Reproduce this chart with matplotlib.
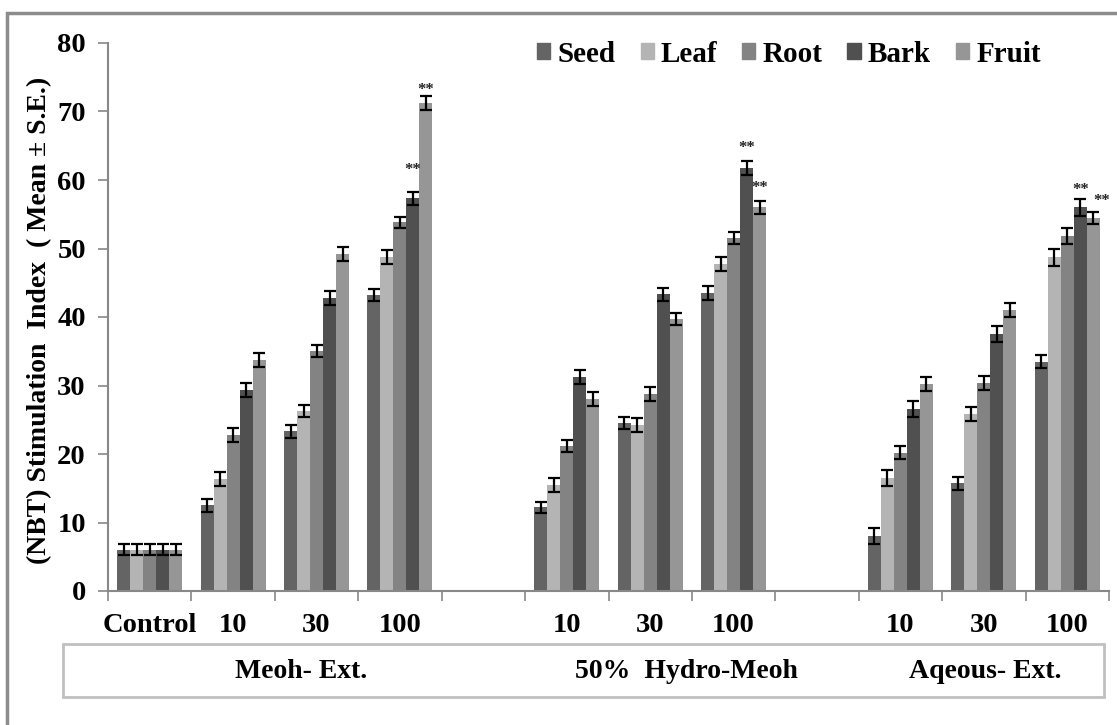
import numpy as np
import matplotlib.pyplot as plt
from matplotlib.patches import Rectangle, Patch

plt.rcParams['font.family'] = ['Liberation Serif', 'DejaVu Serif']
plt.rcParams['font.weight'] = 'bold'

nan = np.nan

# categories along the x axis (blank slots separate the extract groups)
slots = ['Control', '10', '30', '100', '', '10', '30', '100', '', '10', '30', '100']
parts = ['Seed', 'Leaf', 'Root', 'Bark', 'Fruit']
groups = ['Meoh- Ext.', '50%  Hydro-Meoh', 'Aqeous- Ext.']

seed = [6, 12.5, 23.3, 43.2, nan, 12.2, 24.5, 43.5, nan, 8.0, 15.7, 33.5]
leaf = [6, 16.3, 26.3, 48.8, nan, 15.5, 24.2, 47.7, nan, 16.5, 25.8, 48.7]
root = [6, 22.8, 35.0, 53.8, nan, 21.2, 28.8, 51.5, nan, 20.2, 30.4, 51.8]
bark = [6, 29.3, 42.8, 57.3, nan, 31.2, 43.3, 61.8, nan, 26.6, 37.5, 56.0]
fruit = [6, 33.7, 49.2, 71.2, nan, 28.0, 39.7, 56.0, nan, 30.2, 41.0, 54.5]

seed_se = [0.8, 0.9, 1.0, 0.9, nan, 0.8, 0.9, 1.0, nan, 1.2, 1.0, 1.0]
leaf_se = [0.8, 1.0, 0.9, 1.0, nan, 1.0, 1.0, 1.0, nan, 1.2, 1.0, 1.2]
root_se = [0.8, 1.0, 0.9, 0.8, nan, 0.9, 1.0, 0.9, nan, 1.0, 1.0, 1.2]
bark_se = [0.8, 1.0, 1.0, 0.9, nan, 1.0, 1.0, 1.0, nan, 1.2, 1.2, 1.2]
fruit_se = [0.8, 1.0, 1.0, 1.0, nan, 1.0, 0.9, 1.0, nan, 1.0, 1.0, 0.9]

# "**" marks: (slot, part, height)
stars = [(3, 3, 61.5), (3, 4, 73.2), (7, 3, 64.6), (7, 4, 58.8), (11, 3, 58.5), (11, 4, 57.0)]

values = [seed, leaf, root, bark, fruit]
errors = [seed_se, leaf_se, root_se, bark_se, fruit_se]
colors = ['#646464', '#b4b4b4', '#838383', '#505050', '#969696']

W, H = 1117, 725
fig = plt.figure(figsize=(W / 100, H / 100), dpi=100)
ax = fig.add_axes([108 / W, (H - 591) / H, (1109 - 108) / W, (591 - 43) / H])

x = np.arange(len(slots))
bw = 0.156
for i in range(5):
    pos = x + (i - 2) * bw
    ax.bar(pos, values[i], bw, color=colors[i], label=parts[i])
    ax.errorbar(pos, values[i], yerr=errors[i], fmt='none', ecolor='black',
                elinewidth=1.6, capsize=4.5, capthick=1.6)

for s, p, h in stars:
    dx = 0.1 if (s == 11 and p == 4) else 0
    ax.text(x[s] + (p - 2) * bw + dx, h, '**', ha='center', va='center',
            fontsize=12, color='#222222')

ax.set_xlim(-0.5, len(slots) - 0.5)
ax.set_ylim(0, 80)
ax.set_yticks(range(0, 81, 10))
ax.set_xticks(x)
ax.set_xticklabels(slots)
ax.set_xticks(np.arange(-0.5, len(slots), 1), minor=True)
ax.tick_params(axis='x', which='major', length=0, pad=16, labelsize=20.5)
ax.tick_params(axis='x', which='minor', length=7, width=1.2, color='#888888')
ax.tick_params(axis='y', length=7, width=1.2, color='#888888', pad=9, labelsize=20.5)
for side in ['top', 'right']:
    ax.spines[side].set_visible(False)
for side in ['left', 'bottom']:
    ax.spines[side].set_color('#888888')
    ax.spines[side].set_linewidth(1.5)

fig.text(40 / W, (H - 320) / H, '(NBT) Stimulation  Index  ( Mean ± S.E.)',
         rotation=90, ha='center', va='center', fontsize=20)

handles = [Patch(color=c) for c in colors]
fig.legend(handles, parts, loc='center', bbox_to_anchor=(789 / W, (H - 54) / H),
           ncol=5, frameon=False, fontsize=21, handlelength=0.45, handleheight=0.45,
           handletextpad=0.25, columnspacing=0.85)

# group box under the axis
fig.patches.append(Rectangle((63 / W, (H - 697) / H), (1104 - 63) / W, 53 / H,
                             fill=False, edgecolor='#c0c0c0', linewidth=2,
                             transform=fig.transFigure))
for gx, g in zip([301, 686, 985], groups):
    fig.text(gx / W, (H - 672) / H, g, ha='center', va='center', fontsize=20)

# outer chart border
fig.patches.append(Rectangle((7 / W, -0.1), 1.2, (H - 13) / H + 0.1, fill=False,
                             edgecolor='#8c8c8c', linewidth=2.5,
                             transform=fig.transFigure))

fig.savefig('out.png', dpi=100)
